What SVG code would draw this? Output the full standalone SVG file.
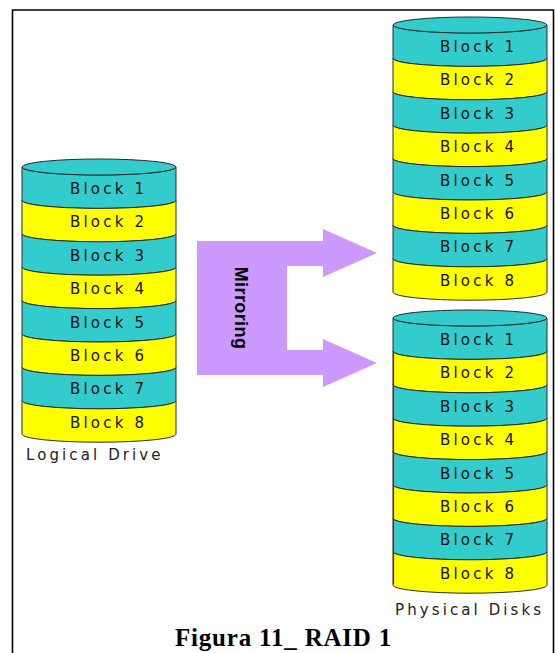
<svg xmlns="http://www.w3.org/2000/svg" width="555" height="653" viewBox="0 0 555 653">
  <style>
    .frame { fill: none; stroke: #000; stroke-width: 1.6; }
    .band { stroke: #2b2b2b; stroke-width: 1; }
    .c { fill: #33CCCC; }
    .y { fill: #FFFF00; }
    .lbl { font-family: "DejaVu Sans", Verdana, sans-serif; font-size: 15px; letter-spacing: 3.2px; fill: #111; }
    .cap { font-family: "DejaVu Sans", Verdana, sans-serif; font-size: 15px; letter-spacing: 3.1px; fill: #222; }
    .arrow { fill: #CC99FF; }
    .mir { font-family: "Liberation Sans", Arial, sans-serif; font-size: 18px; font-weight: bold; letter-spacing: 0.4px; fill: #000; }
    .title { font-family: "Liberation Serif", "Times New Roman", serif; font-size: 25px; font-weight: bold; letter-spacing: 0.8px; fill: #000; }
  </style>

  <!-- page frame -->
  <path class="frame" d="M12.5,653 V10 H553.5 V653"/>

  <!-- logical drive: cx 99, rx 77, top cy 167, band height 33.4 -->
  <g id="logical-drive">
    <path class="band c" d="M22,167 A77,8 0 0 0 176,167 V200.4 A77,8 0 0 1 22,200.4 Z"/>
    <path class="band y" d="M22,200.4 A77,8 0 0 0 176,200.4 V233.8 A77,8 0 0 1 22,233.8 Z"/>
    <path class="band c" d="M22,233.8 A77,8 0 0 0 176,233.8 V267.2 A77,8 0 0 1 22,267.2 Z"/>
    <path class="band y" d="M22,267.2 A77,8 0 0 0 176,267.2 V300.6 A77,8 0 0 1 22,300.6 Z"/>
    <path class="band c" d="M22,300.6 A77,8 0 0 0 176,300.6 V334 A77,8 0 0 1 22,334 Z"/>
    <path class="band y" d="M22,334 A77,8 0 0 0 176,334 V367.4 A77,8 0 0 1 22,367.4 Z"/>
    <path class="band c" d="M22,367.4 A77,8 0 0 0 176,367.4 V400.8 A77,8 0 0 1 22,400.8 Z"/>
    <path class="band y" d="M22,400.8 A77,8 0 0 0 176,400.8 V434.2 A77,8 0 0 1 22,434.2 Z"/>
    <ellipse class="band c" cx="99" cy="167" rx="77" ry="8"/>
    <text class="lbl" x="70" y="194">Block 1</text>
    <text class="lbl" x="70" y="227.4">Block 2</text>
    <text class="lbl" x="70" y="260.8">Block 3</text>
    <text class="lbl" x="70" y="294.2">Block 4</text>
    <text class="lbl" x="70" y="327.6">Block 5</text>
    <text class="lbl" x="70" y="361">Block 6</text>
    <text class="lbl" x="70" y="394.4">Block 7</text>
    <text class="lbl" x="70" y="427.8">Block 8</text>
    <text class="cap" x="26" y="460">Logical Drive</text>
  </g>

  <!-- first physical disk: cx 470, top cy 25 -->
  <g id="disk-1">
    <path class="band c" d="M393,25 A77,8 0 0 0 547,25 V58.4 A77,8 0 0 1 393,58.4 Z"/>
    <path class="band y" d="M393,58.4 A77,8 0 0 0 547,58.4 V91.8 A77,8 0 0 1 393,91.8 Z"/>
    <path class="band c" d="M393,91.8 A77,8 0 0 0 547,91.8 V125.2 A77,8 0 0 1 393,125.2 Z"/>
    <path class="band y" d="M393,125.2 A77,8 0 0 0 547,125.2 V158.6 A77,8 0 0 1 393,158.6 Z"/>
    <path class="band c" d="M393,158.6 A77,8 0 0 0 547,158.6 V192 A77,8 0 0 1 393,192 Z"/>
    <path class="band y" d="M393,192 A77,8 0 0 0 547,192 V225.4 A77,8 0 0 1 393,225.4 Z"/>
    <path class="band c" d="M393,225.4 A77,8 0 0 0 547,225.4 V258.8 A77,8 0 0 1 393,258.8 Z"/>
    <path class="band y" d="M393,258.8 A77,8 0 0 0 547,258.8 V292.2 A77,8 0 0 1 393,292.2 Z"/>
    <ellipse class="band c" cx="470" cy="25" rx="77" ry="8"/>
    <text class="lbl" x="440" y="52">Block 1</text>
    <text class="lbl" x="440" y="85.4">Block 2</text>
    <text class="lbl" x="440" y="118.8">Block 3</text>
    <text class="lbl" x="440" y="152.2">Block 4</text>
    <text class="lbl" x="440" y="185.6">Block 5</text>
    <text class="lbl" x="440" y="219">Block 6</text>
    <text class="lbl" x="440" y="252.4">Block 7</text>
    <text class="lbl" x="440" y="285.8">Block 8</text>
  </g>

  <!-- second physical disk: cx 470, top cy 318 -->
  <g id="disk-2">
    <path class="band c" d="M393,318 A77,8 0 0 0 547,318 V351.4 A77,8 0 0 1 393,351.4 Z"/>
    <path class="band y" d="M393,351.4 A77,8 0 0 0 547,351.4 V384.8 A77,8 0 0 1 393,384.8 Z"/>
    <path class="band c" d="M393,384.8 A77,8 0 0 0 547,384.8 V418.2 A77,8 0 0 1 393,418.2 Z"/>
    <path class="band y" d="M393,418.2 A77,8 0 0 0 547,418.2 V451.6 A77,8 0 0 1 393,451.6 Z"/>
    <path class="band c" d="M393,451.6 A77,8 0 0 0 547,451.6 V485 A77,8 0 0 1 393,485 Z"/>
    <path class="band y" d="M393,485 A77,8 0 0 0 547,485 V518.4 A77,8 0 0 1 393,518.4 Z"/>
    <path class="band c" d="M393,518.4 A77,8 0 0 0 547,518.4 V551.8 A77,8 0 0 1 393,551.8 Z"/>
    <path class="band y" d="M393,551.8 A77,8 0 0 0 547,551.8 V585.2 A77,8 0 0 1 393,585.2 Z"/>
    <ellipse class="band c" cx="470" cy="318" rx="77" ry="8"/>
    <line x1="393.5" y1="351" x2="393.5" y2="584" stroke="#CC0000" stroke-width="1.2"/>
    <text class="lbl" x="440" y="345">Block 1</text>
    <text class="lbl" x="440" y="378.4">Block 2</text>
    <text class="lbl" x="440" y="411.8">Block 3</text>
    <text class="lbl" x="440" y="445.2">Block 4</text>
    <text class="lbl" x="440" y="478.6">Block 5</text>
    <text class="lbl" x="440" y="512">Block 6</text>
    <text class="lbl" x="440" y="545.4">Block 7</text>
    <text class="lbl" x="440" y="578.8">Block 8</text>
    <text class="cap" x="395" y="615">Physical Disks</text>
  </g>

  <!-- mirroring arrow splitting into two heads -->
  <g id="connectors">
    <polygon class="arrow" points="197,241 323,241 323,229 377,253 323,277 323,266 287,266 287,350 323,350 323,339 377,363 323,387 323,375 197,375"/>
    <text class="mir" x="241" y="308" transform="rotate(90 241 308)" text-anchor="middle" dominant-baseline="central">Mirroring</text>
  </g>

  <text class="title" x="175" y="646">Figura 11_ RAID 1</text>
</svg>
